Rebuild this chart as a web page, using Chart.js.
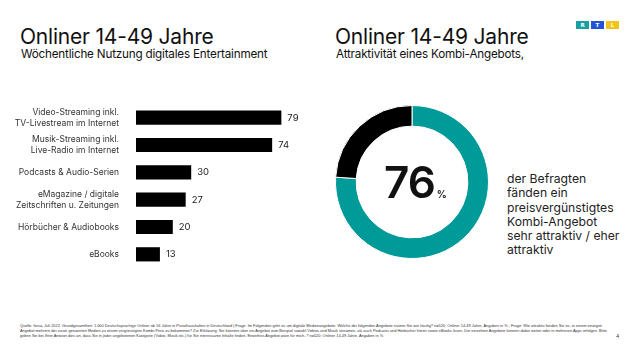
<!DOCTYPE html>
<html lang="de">
<head>
<meta charset="utf-8">
<script src="https://cdn.jsdelivr.net/npm/chart.js@4/dist/chart.umd.min.js"></script>
<style>
  html, body { margin:0; padding:0; background:#fff; }
  body { width:640px; height:360px; position:relative; overflow:hidden; font-family: Inter, "Noto Sans", sans-serif; color:#111; }
  .title { position:absolute; top:24px; font-size:21px; font-weight:400; letter-spacing:-0.2px; white-space:nowrap; }
  .sub { position:absolute; top:47px; font-size:11.7px; white-space:nowrap; letter-spacing:-0.2px; }
  #barWrap { position:absolute; left:0; top:104px; width:320px; height:164px; }
  #donutWrap { position:absolute; left:335px; top:105px; width:154px; height:154px; }
  .big { position:absolute; left:384px; top:158px; font-size:44px; font-weight:600; letter-spacing:-1px; line-height:48px; }
  .big span { font-size:10px; font-weight:600; letter-spacing:0; margin-left:2px; }
  .note { position:absolute; left:507px; top:172px; font-size:12.2px; line-height:14.3px; color:#222; }
  .foot { position:absolute; left:20px; top:323px; width:588px; font-size:3.9px; line-height:5px; color:#333; font-family:"Liberation Sans", sans-serif; }
  .page { position:absolute; left:616px; top:333px; font-size:5px; color:#333; }
  .logo { position:absolute; left:576px; top:21px; display:flex; gap:2px; }
  .logo div { width:13px; height:8px; color:#fff; font-size:5.5px; font-weight:700; text-align:center; line-height:8px; font-family:"DejaVu Sans", sans-serif; }
</style>
</head>
<body>
<div class="title" style="left:20px">Onliner 14-49 Jahre</div>
<div class="sub" style="left:21px">Wöchentliche Nutzung digitales Entertainment</div>
<div class="title" style="left:335px">Onliner 14-49 Jahre</div>
<div class="sub" style="left:336px">Attraktivität eines Kombi-Angebots,</div>
<div class="logo"><div style="background:#17a2a0">R</div><div style="background:#2453d6">T</div><div style="background:#f0c419">L</div></div>

<div id="barWrap"><canvas id="bars"></canvas></div>
<div id="donutWrap"><canvas id="donut"></canvas></div>
<div class="big">76<span>%</span></div>
<div class="note">der Befragten<br>fänden ein<br>preisvergünstigtes<br>Kombi-Angebot<br>sehr attraktiv / eher<br>attraktiv</div>

<div class="foot">Quelle: forsa, Juli 2022. Grundgesamtheit: 1.000 Deutschsprachige Onliner ab 16 Jahre in Privathaushalten in Deutschland | Frage: Im Folgenden geht es um digitale Medienangebote. Welche der folgenden Angebote nutzen Sie wie häufig? n=520; Onliner 14-49 Jahre, Angaben in % ; Frage: Wie attraktiv fänden Sie es, in einem einzigen Angebot mehrere der zuvor genannten Medien zu einem vergünstigten Kombi-Preis zu bekommen? Zur Erklärung: Sie könnten über ein Angebot zum Beispiel sowohl Videos und Musik streamen, als auch Podcasts und Hörbücher hören sowie eBooks lesen. Die einzelnen Angebote können dabei weiter oder in mehreren Apps erfolgen. Bitte geben Sie bei Ihrer Antwort dies an, dass Sie in jeder angebotenen Kategorie (Video, Musik etc.) für Sie interessante Inhalte finden. Einzelnes Angebot wäre für mich..? n=520; Onliner 14-49 Jahre, Angaben in %</div>
<div class="page">4</div>

<script>
const categories = [
  ['Video-Streaming inkl.', 'TV-Livestream im Internet'],
  ['Musik-Streaming inkl.', 'Live-Radio im Internet'],
  'Podcasts & Audio-Serien',
  ['eMagazine / digitale', 'Zeitschriften u. Zeitungen'],
  'Hörbücher & Audiobooks',
  'eBooks'
];
const weeklyUse = [79, 74, 30, 27, 20, 13];

const comboLabels = ['sehr attraktiv / eher attraktiv', 'weniger / nicht attraktiv'];
const comboShare = [76, 24];

const barValues = {
  id: 'barValues',
  afterDatasetsDraw(chart){
    const ctx = chart.ctx;
    const meta = chart.getDatasetMeta(0);
    ctx.save();
    ctx.font = '9.5px Inter, sans-serif';
    ctx.fillStyle = '#222';
    ctx.textBaseline = 'middle';
    meta.data.forEach((bar, i) => {
      ctx.fillText(String(weeklyUse[i]), bar.x + 6, bar.y);
    });
    ctx.restore();
  }
};

new Chart(document.getElementById('bars'), {
  type: 'bar',
  data: { labels: categories, datasets: [{ data: weeklyUse, backgroundColor: '#000', barPercentage: 0.52, categoryPercentage: 1 }] },
  options: {
    indexAxis: 'y',
    responsive: true, maintainAspectRatio: false, animation: false,
    layout: { padding: 0 },
    plugins: { legend: { display: false }, tooltip: { enabled: false } },
    scales: {
      x: { display: false, min: 0, max: 100 },
      y: {
        grid: { display: false }, border: { display: false },
        afterFit(scale){ scale.width = 136; scale.paddingTop = 0; scale.paddingBottom = 0; },
        ticks: { color: '#333', padding: 9, font: { family: 'Inter, sans-serif', size: 8.5, lineHeight: 1.25 } }
      }
    }
  },
  plugins: [barValues]
});

new Chart(document.getElementById('donut'), {
  type: 'doughnut',
  data: { labels: comboLabels, datasets: [{ data: comboShare, backgroundColor: ['#009a98', '#000'], borderColor: '#fff', borderWidth: 1 }] },
  options: {
    responsive: true, maintainAspectRatio: false, animation: false,
    cutout: '73%',
    layout: { padding: 0 },
    plugins: { legend: { display: false }, tooltip: { enabled: false } }
  }
});
</script>
</body>
</html>
